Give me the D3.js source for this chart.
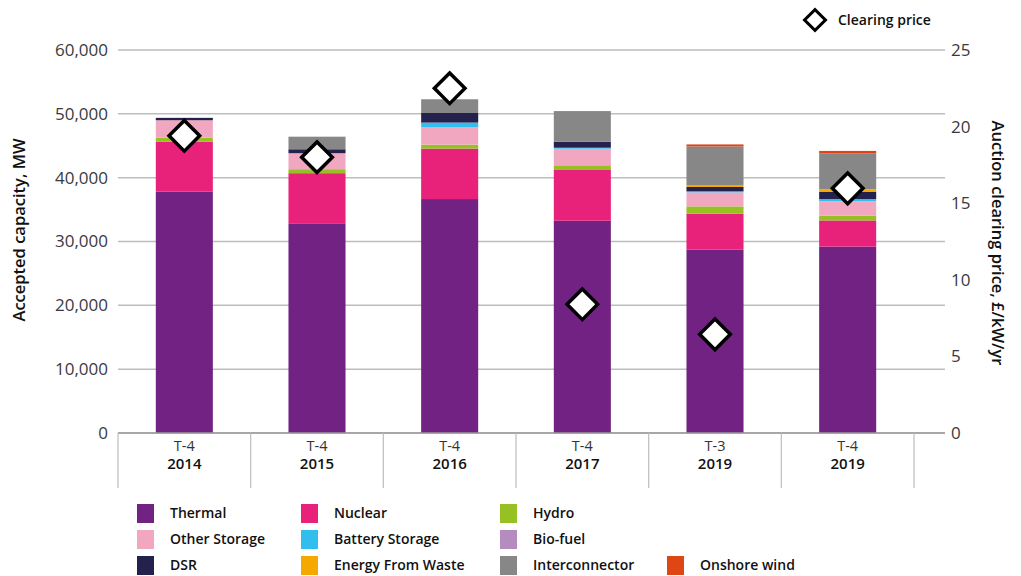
<!DOCTYPE html>
<html>
<head>
<meta charset="utf-8">
<script src="https://cdn.jsdelivr.net/npm/d3@7"></script>
<style>
  body { margin: 0; background: #fff; }
  svg { font-family: "Open Sans", Lato, sans-serif; }
</style>
</head>
<body>
<svg id="chart" width="1021" height="576"></svg>
<script>
// auction rounds
const rounds = ["T-4", "T-4", "T-4", "T-4", "T-3", "T-4"];
const years = ["2014", "2015", "2016", "2017", "2019", "2019"];

// accepted capacity by technology, MW
const thermal        = [37800, 32850, 36650, 33250, 28750, 29200];
const nuclear        = [7850, 7850, 7900, 7950, 5600, 4100];
const hydro          = [600, 630, 630, 740, 1150, 750];
const otherStorage   = [2750, 2500, 2700, 2600, 2200, 2250];
const batteryStorage = [0, 0, 750, 150, 160, 360];
const bioFuel        = [0, 0, 0, 0, 0, 0];
const dsr            = [370, 620, 1500, 940, 680, 1150];
const energyFromWaste = [0, 0, 0, 0, 310, 370];
const interconnector = [0, 1970, 2150, 4800, 6050, 5650];
const onshoreWind    = [0, 0, 0, 0, 310, 360];

// clearing price, £/kW/yr
const clearingPrice = [19.40, 18.00, 22.50, 8.40, 6.44, 15.97];

const leftTicks = [0, 10000, 20000, 30000, 40000, 50000, 60000];
const rightTicks = [0, 5, 10, 15, 20, 25];

const series = [
  { key: "Thermal", values: thermal, color: "#722282" },
  { key: "Nuclear", values: nuclear, color: "#e8217a" },
  { key: "Hydro", values: hydro, color: "#97c122" },
  { key: "Other Storage", values: otherStorage, color: "#f2a7c0" },
  { key: "Battery Storage", values: batteryStorage, color: "#32bdef" },
  { key: "Bio-fuel", values: bioFuel, color: "#b48cc0" },
  { key: "DSR", values: dsr, color: "#25214d" },
  { key: "Energy From Waste", values: energyFromWaste, color: "#f5a800" },
  { key: "Interconnector", values: interconnector, color: "#878787" },
  { key: "Onshore wind", values: onshoreWind, color: "#e04514" }
];

// legend layout: rows of series keys
const legendRows = [
  ["Thermal", "Nuclear", "Hydro"],
  ["Other Storage", "Battery Storage", "Bio-fuel"],
  ["DSR", "Energy From Waste", "Interconnector", "Onshore wind"]
];

const svg = d3.select("#chart");
const plotLeft = 118, plotRight = 914, gridEnd = 945, plotTop = 50, plotBottom = 433;

const table = years.map((yr, i) => {
  const row = { i };
  series.forEach(s => row[s.key] = s.values[i]);
  return row;
});

const x = d3.scaleBand().domain(d3.range(years.length)).range([plotLeft, plotRight]);
const y = d3.scaleLinear().domain([0, 60000]).range([plotBottom, plotTop]);
const y2 = d3.scaleLinear().domain([0, 25]).range([plotBottom, plotTop]);
const barW = x.bandwidth() * 0.43;

// gridlines
svg.append("g")
  .selectAll("line")
  .data(leftTicks)
  .join("line")
  .attr("x1", plotLeft).attr("x2", gridEnd)
  .attr("y1", d => y(d)).attr("y2", d => y(d))
  .attr("stroke", "#bdbdbd")
  .attr("stroke-width", 1.5);

// left axis labels
const yAxis = svg.append("g")
  .attr("transform", `translate(${plotLeft},0)`)
  .call(d3.axisLeft(y).tickValues(leftTicks).tickFormat(d3.format(",")).tickSize(0).tickPadding(10));
yAxis.select(".domain").remove();
yAxis.selectAll("text").attr("font-size", 17).attr("fill", "#3a3a3a").attr("font-family", "'Open Sans', sans-serif");

// right axis labels
const y2Axis = svg.append("g")
  .attr("transform", `translate(${gridEnd},0)`)
  .call(d3.axisRight(y2).tickValues(rightTicks).tickSize(0).tickPadding(6));
y2Axis.select(".domain").remove();
y2Axis.selectAll("text").attr("font-size", 17).attr("fill", "#3a3a3a").attr("font-family", "'Open Sans', sans-serif");

// stacked bars
const stack = d3.stack().keys(series.map(s => s.key));
const stacked = stack(table);
const colorOf = d3.scaleOrdinal().domain(series.map(s => s.key)).range(series.map(s => s.color));

svg.append("g")
  .selectAll("g")
  .data(stacked)
  .join("g")
  .attr("fill", d => colorOf(d.key))
  .selectAll("rect")
  .data(d => d.filter(p => p[1] - p[0] > 0))
  .join("rect")
  .attr("x", d => x(d.data.i) + (x.bandwidth() - barW) / 2)
  .attr("width", barW)
  .attr("y", d => y(d[1]))
  .attr("height", d => y(d[0]) - y(d[1]));

// x axis baseline and category dividers
svg.append("line")
  .attr("x1", plotLeft).attr("x2", gridEnd)
  .attr("y1", plotBottom).attr("y2", plotBottom)
  .attr("stroke", "#9a9a9a").attr("stroke-width", 1.5);

const edges = d3.range(years.length + 1).map(i => i < years.length ? x(i) : x(i - 1) + x.bandwidth());
svg.append("g")
  .selectAll("line")
  .data(edges)
  .join("line")
  .attr("x1", d => d).attr("x2", d => d)
  .attr("y1", plotBottom).attr("y2", 488)
  .attr("stroke", "#bdbdbd").attr("stroke-width", 1.2);

const cat = svg.append("g")
  .selectAll("g")
  .data(years)
  .join("g")
  .attr("transform", (d, i) => `translate(${x(i) + x.bandwidth() / 2},0)`);
cat.append("text")
  .attr("y", 451).attr("text-anchor", "middle")
  .attr("font-size", 14.5).attr("fill", "#333")
  .text((d, i) => rounds[i]);
cat.append("text")
  .attr("y", 469).attr("text-anchor", "middle")
  .attr("font-size", 15).attr("font-weight", 600).attr("fill", "#111")
  .text(d => d);

// clearing price diamonds
const diamond = d3.symbol().type(d3.symbolSquare).size(470);
svg.append("g")
  .selectAll("path")
  .data(clearingPrice)
  .join("path")
  .attr("d", diamond)
  .attr("transform", (d, i) => `translate(${x(i) + x.bandwidth() / 2},${y2(d)}) rotate(45)`)
  .attr("fill", "#fff")
  .attr("stroke", "#000")
  .attr("stroke-width", 3.5);

// axis titles
svg.append("text")
  .attr("transform", "translate(25,230) rotate(-90)")
  .attr("text-anchor", "middle")
  .attr("font-size", 16.5).attr("font-weight", 600).attr("fill", "#111")
  .text("Accepted capacity, MW");

svg.append("text")
  .attr("transform", "translate(992,243) rotate(90)")
  .attr("text-anchor", "middle")
  .attr("font-size", 16.5).attr("font-weight", 600).attr("fill", "#111")
  .text("Auction clearing price, £/kW/yr");

// clearing price legend
svg.append("path")
  .attr("d", d3.symbol().type(d3.symbolSquare).size(220)())
  .attr("transform", "translate(815,20) rotate(45)")
  .attr("fill", "#fff").attr("stroke", "#000").attr("stroke-width", 3);
svg.append("text")
  .attr("x", 838).attr("y", 25)
  .attr("font-size", 14).attr("font-weight", 600).attr("fill", "#111")
  .text("Clearing price");

// technology legend
const colX = [137, 301, 500, 667];
const rowY = [513, 539, 565];
legendRows.forEach((row, r) => {
  row.forEach((key, c) => {
    const g = svg.append("g").attr("transform", `translate(${colX[c]},${rowY[r]})`);
    g.append("rect")
      .attr("x", 0).attr("y", -9).attr("width", 17).attr("height", 19)
      .attr("fill", colorOf(key));
    g.append("text")
      .attr("x", 33).attr("y", 5)
      .attr("font-size", 14).attr("font-weight", 600).attr("fill", "#111")
      .text(key);
  });
});
</script>
</body>
</html>
